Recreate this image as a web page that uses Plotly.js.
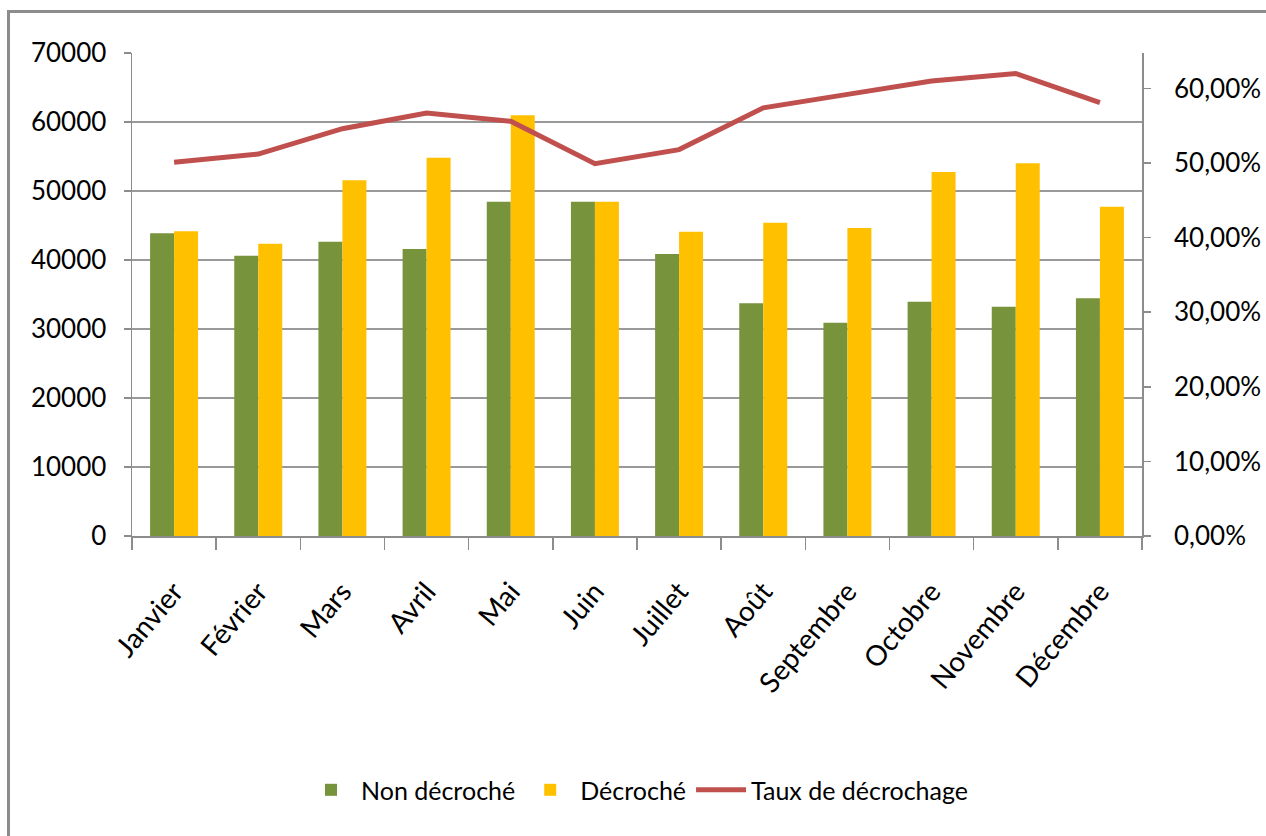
<!DOCTYPE html>
<html>
<head>
<meta charset="utf-8">
<script src="https://cdn.plot.ly/plotly-3.0.1.min.js"></script>
<style>
  html, body { margin: 0; padding: 0; background: #fff; }
  #cadre {
    position: absolute; left: 0; top: 0; width: 1266px; height: 836px;
  }
  #bord {
    position: absolute; left: 7px; top: 10px; right: -10px; bottom: -10px;
    border-left: 3px solid #8c8c8c; border-top: 3px solid #8c8c8c;
    pointer-events: none;
  }
</style>
</head>
<body>
<div id="cadre"></div>
<div id="bord"></div>
<script>
// valeurs
var mois = ['Janvier', 'Février', 'Mars', 'Avril', 'Mai', 'Juin', 'Juillet', 'Août', 'Septembre', 'Octobre', 'Novembre', 'Décembre'];
var nonDecroche = [43870, 40620, 42650, 41590, 48450, 48450, 40870, 33720, 30910, 33960, 33230, 34450];
var decroche = [44160, 42360, 51550, 54830, 60970, 48450, 44100, 45400, 44640, 52750, 54010, 47730];
var taux = [0.501, 0.512, 0.546, 0.567, 0.556, 0.499, 0.518, 0.574, 0.592, 0.610, 0.620, 0.581];

var police = 'Lato, Open Sans, sans-serif';

var trace1 = {
    x: mois,
    y: nonDecroche,
    type: 'bar',
    name: 'Non décroché',
    marker: { color: '#77933C' }
};

var trace2 = {
    x: mois,
    y: decroche,
    type: 'bar',
    name: 'Décroché',
    marker: { color: '#FFC000' }
};

var trace3 = {
    x: mois,
    y: taux,
    type: 'scatter',
    mode: 'lines',
    name: 'Taux de décrochage',
    yaxis: 'y2',
    line: { color: '#C0504D', width: 5 }
};

var layout = {
    width: 1266,
    height: 836,
    margin: { l: 132, r: 124, t: 53, b: 300 },
    paper_bgcolor: '#fff',
    plot_bgcolor: '#fff',
    separators: ',.',
    font: { family: police, size: 26, color: '#000' },
    barmode: 'group',
    bargap: 0.43,
    bargroupgap: 0,
    showlegend: true,
    legend: {
        orientation: 'h',
        x: 0.5,
        xanchor: 'center',
        y: -0.526,
        yanchor: 'middle',
        itemwidth: 50,
        font: { family: police, size: 25 },
        traceorder: 'normal'
    },
    xaxis: {
        type: 'category',
        tickson: 'boundaries',
        ticks: 'outside',
        ticklen: 12,
        tickcolor: '#8c8c8c',
        tickwidth: 1.5,
        showline: true,
        linecolor: '#8c8c8c',
        linewidth: 2,
        showgrid: false,
        tickangle: -50,
        ticklabelstandoff: 26,
        tickfont: { family: police, size: 28 },
        fixedrange: true
    },
    yaxis: {
        range: [0, 70000],
        dtick: 10000,
        tickformat: 'd',
        ticks: 'outside',
        ticklen: 7,
        tickcolor: '#8c8c8c',
        tickwidth: 1.5,
        showline: true,
        linecolor: '#8c8c8c',
        linewidth: 1.5,
        showgrid: true,
        gridcolor: '#999',
        gridwidth: 1.5,
        zeroline: false,
        ticklabelstandoff: 12,
        tickfont: { family: police, size: 26 }
    },
    yaxis2: {
        overlaying: 'y',
        side: 'right',
        range: [0, 0.6475],
        dtick: 0.1,
        tickformat: '.2%',
        tickprefix: '\u2007\u2009',
        ticks: 'outside',
        ticklen: 7,
        tickcolor: '#8c8c8c',
        tickwidth: 1.5,
        showline: true,
        linecolor: '#8c8c8c',
        linewidth: 1.5,
        showgrid: false,
        zeroline: false,
        tickfont: { family: police, size: 26 }
    }
};

Plotly.newPlot('cadre', [trace1, trace2, trace3], layout, { displayModeBar: false, staticPlot: true });
</script>
</body>
</html>
